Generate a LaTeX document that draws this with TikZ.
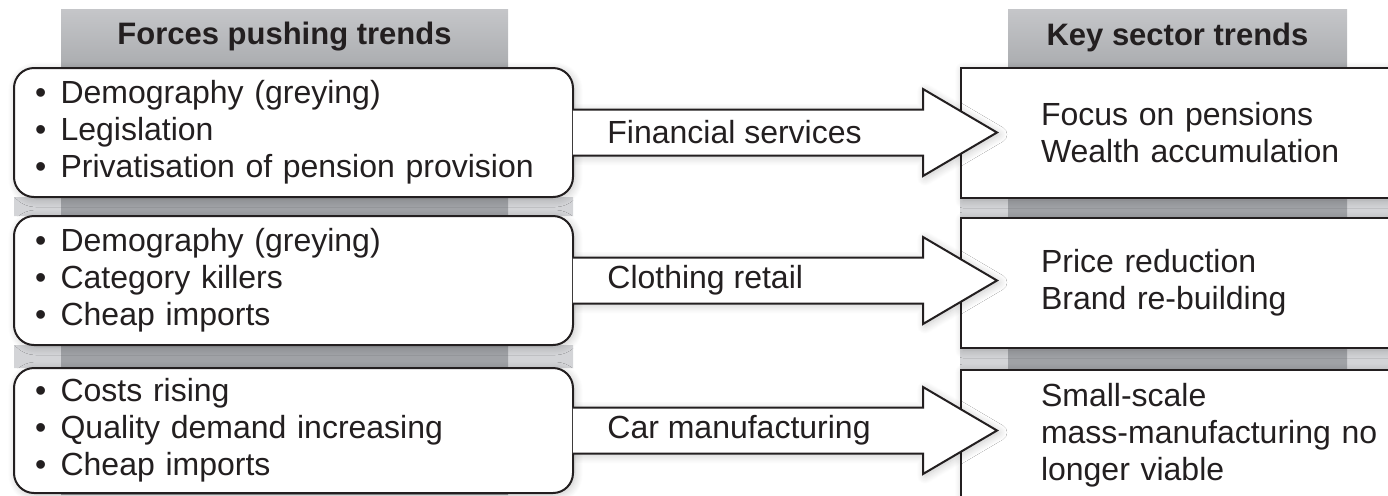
\documentclass[tikz,border=0pt]{standalone}
\usepackage{fontspec}
\setmainfont{Liberation Sans}
\usetikzlibrary{shadows.blur}
\definecolor{ink}{RGB}{35,31,32}
\definecolor{colgray}{RGB}{160,162,166}
\definecolor{gaplight}{RGB}{211,212,215}
\definecolor{headtop}{RGB}{197,198,201}
\definecolor{headbot}{RGB}{170,172,175}
\newcommand{\itm}{•\hspace{0.45em}}
\begin{document}
\begin{tikzpicture}[x = 0.5pt, y = -0.5pt,
	every node/.style = {text = ink, font = \fontsize{16}{18.5}\selectfont},
	glow/.style = {blur shadow = {shadow blur radius = 4pt, shadow blur steps = 12, shadow xshift = 1pt, shadow yshift = -1pt, shadow opacity = 22}},
	forcebox/.style = {draw = ink, line width = 1pt, fill = white, rounded corners = 10pt, glow,
		minimum width = 279.5pt, minimum height = 64.5pt, text width = 258.5pt, inner xsep = 10.5pt, align = left},
	trendbox/.style = {draw = ink, line width = 1pt, fill = white, glow, anchor = west,
		minimum height = 65pt, text width = 180pt, inner xsep = 40pt, align = left},
	flowarrow/.style = {draw = ink, line width = 1pt, fill = white, line join = miter, glow},
	headtext/.style = {font = \fontsize{15.5}{18.5}\selectfont\bfseries}]
	\useasboundingbox (0,0) rectangle (1388,495);
	\clip (0,0) rectangle (1388,495);
	% grey columns behind the boxes
	\fill [gaplight] (14,197) rectangle (573,216) (14,345) rectangle (573,368);
	\fill [gaplight] (960,198) rectangle (1388,218) (960,348) rectangle (1388,370);
	\fill [colgray] (61,68) rectangle (508,495) (1008,68) rectangle (1347,495);
	\shade [top color = headtop, bottom color = headbot] (61,9) rectangle (508,68);
	\shade [top color = headtop, bottom color = headbot] (1008,9) rectangle (1347,68);
	\node [headtext] (hf) at (284.5,37) {Forces pushing trends};
	\node [headtext] (hk) at (1177.5,37) {Key sector trends};
	% sector trends
	\node [trendbox] (k1) at (960,133) {Focus on pensions\\Wealth accumulation};
	\node [trendbox] (k2) at (960,283) {Price reduction\\Brand re-building};
	\node [trendbox] (k3) at (960,435) {Small-scale\\mass-manufacturing no\\longer viable};
	% forces
	\node [forcebox] (f1) at (293.5,132.5) {\itm Demography (greying)\\\itm Legislation\\\itm Privatisation of pension provision};
	\node [forcebox] (f2) at (293.5,280.5) {\itm Demography (greying)\\\itm Category killers\\\itm Cheap imports};
	\node [forcebox, minimum height = 62.5pt] (f3) at (293.5,430.5) {\itm Costs rising\\\itm Quality demand increasing\\\itm Cheap imports};
	% arrows
	\foreach \i/\lab in {1/Financial services, 2/Clothing retail, 3/Car manufacturing}{
		\coordinate (h\i) at (k\i.west |- f\i.east);
		\draw [flowarrow] ([xshift = -0.6pt, yshift = 11.5pt]f\i.east) -- ([xshift = -18.5pt, yshift = 11.5pt]h\i)
			-- ([xshift = -18.5pt, yshift = 21.75pt]h\i) -- ([xshift = 18.5pt]h\i)
			-- ([xshift = -18.5pt, yshift = -21.75pt]h\i) -- ([xshift = -18.5pt, yshift = -11.5pt]h\i)
			-- ([xshift = -0.6pt, yshift = -11.5pt]f\i.east);
		\node [anchor = west, inner xsep = 0pt] (l\i) at ([xshift = 16.5pt]f\i.east) {\lab};
	}
\end{tikzpicture}
\end{document}
